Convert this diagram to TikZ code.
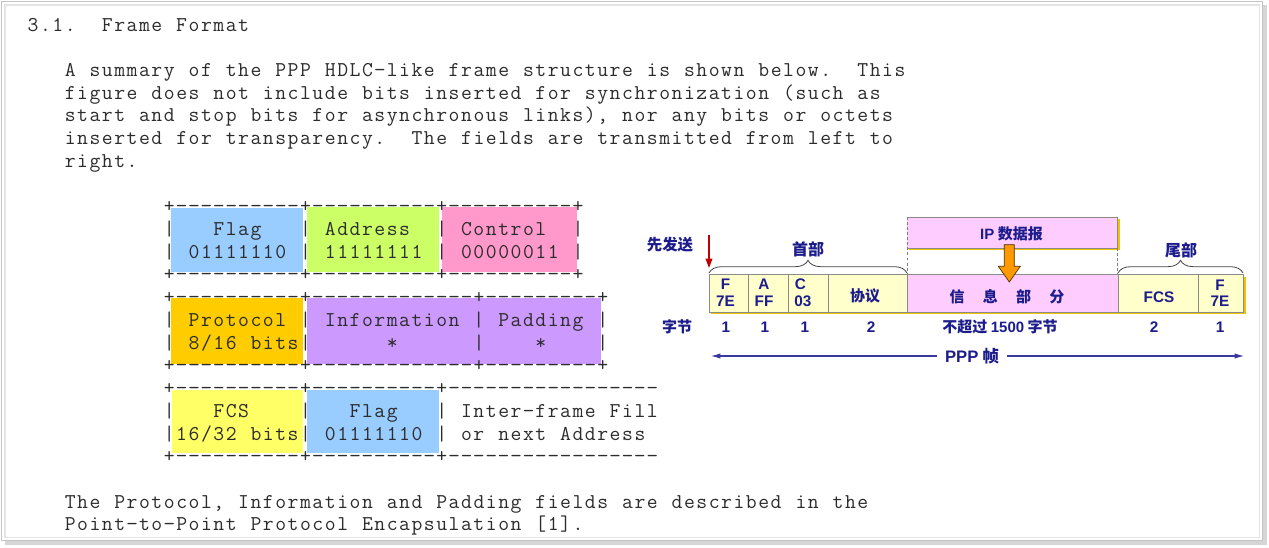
\documentclass[tikz,border=0pt]{standalone}
\usepackage{fontspec}
\usepackage{graphicx}
\usetikzlibrary{decorations.pathreplacing,arrows.meta}
\newfontfamily\cjk{Noto Sans CJK SC}
\newfontfamily\lsans{Liberation Sans}
\definecolor{monotext}{HTML}{2C2C2C}
\definecolor{navy}{HTML}{1C1C8C}
\definecolor{cBlue}{HTML}{99CCFF}
\definecolor{cGreen}{HTML}{CCFF66}
\definecolor{cPink}{HTML}{FF99CC}
\definecolor{cOrange}{HTML}{FFCC00}
\definecolor{cPurple}{HTML}{CC99FF}
\definecolor{cYellow}{HTML}{FFFF66}
\definecolor{lightyel}{HTML}{FFFFCC}
\definecolor{lightpink}{HTML}{FFCCFF}
\definecolor{gold}{HTML}{F0C400}
\definecolor{framegray}{HTML}{8A8A8A}
\definecolor{bracegray}{HTML}{444444}
\definecolor{arrowblue}{HTML}{3838A0}
\definecolor{fatorange}{HTML}{FF9900}
\definecolor{redarrow}{HTML}{C00000}
\definecolor{winouter}{HTML}{C4C4C4}
\definecolor{wininner}{HTML}{E4E4E4}
\definecolor{winshadow}{HTML}{D6D6D6}
\ExplSyntaxOn
\dim_new:N \g_mono_adv_dim
\dim_gset:Nn \g_mono_adv_dim {9.289pt}
\cs_new_protected:Npn \monoline #1
  {
    \str_map_inline:nn {#1}
      {
        \str_if_eq:nnTF {##1} {@}
          { \hbox_to_wd:nn {\g_mono_adv_dim} {} }
          {
            \str_if_eq:nnTF {##1} {-}
              { \hbox_to_wd:nn {\g_mono_adv_dim} { \hfil \scalebox{1.1}[1]{-} \hfil } }
              { \hbox_to_wd:nn {\g_mono_adv_dim} { \hfil ##1 \hfil } }
          }
      }
  }
\ExplSyntaxOff
\tikzset{
  mono/.style={inner sep=0pt, anchor=base west, text=monotext,
    font=\ttfamily\fontsize{15.8pt}{18pt}\selectfont},
  cn/.style={inner sep=0pt, text=navy, font=\cjk\bfseries\fontsize{11.25pt}{13pt}\selectfont},
  lt/.style={inner sep=0pt, text=navy, font=\lsans\bfseries\fontsize{11.5pt}{13pt}\selectfont},
  cellbox/.style={draw=framegray, line width=0.6pt},
  bracestyle/.style={decorate, decoration={brace, amplitude=9.5pt}, draw=bracegray, line width=0.6pt},
  dashln/.style={draw=gray, dashed, dash pattern=on 2.2pt off 1.6pt, line width=0.5pt},
  pppline/.style={draw=arrowblue, line width=0.8pt, -{Latex[length=7pt,width=4pt]}},
}
\begin{document}
\begin{tikzpicture}[x=0.75pt,y=-0.75pt]
\useasboundingbox (0,0) rectangle (1269,547);
% window frame
\fill[winshadow] (5,5) rectangle (1267,545);
\fill[white] (1,1) rectangle (1263,541);
\draw[winouter, line width=0.8pt] (1.5,1.5) rectangle (1262.5,540.5);
\draw[wininner, line width=0.8pt] (5,5) rectangle (1259.5,537.5);

% coloured cell backgrounds
\fill[cBlue]   (171,208) rectangle (303,272);
\fill[cGreen]  (307,207) rectangle (439,272);
\fill[cPink]   (442,207) rectangle (577,272);
\fill[cOrange] (171,298) rectangle (303,364);
\fill[cPurple] (307,298) rectangle (601,364);
\fill[cYellow] (172,390) rectangle (303,453);
\fill[cBlue]   (307,390) rectangle (439,453);

% monospaced text lines
\def\lx{26.6}
\node[mono] (t0)  at (\lx,31.0)  {\monoline{3.1.@@Frame@Format}};
\node[mono] (t2)  at (\lx,76.4)  {\monoline{@@@A@summary@of@the@PPP@HDLC-like@frame@structure@is@shown@below.@@This}};
\node[mono] (t3)  at (\lx,99.2)  {\monoline{@@@figure@does@not@include@bits@inserted@for@synchronization@(such@as}};
\node[mono] (t4)  at (\lx,121.9) {\monoline{@@@start@and@stop@bits@for@asynchronous@links),@nor@any@bits@or@octets}};
\node[mono] (t5)  at (\lx,144.6) {\monoline{@@@inserted@for@transparency.@@The@fields@are@transmitted@from@left@to}};
\node[mono] (t6)  at (\lx,167.3) {\monoline{@@@right.}};
\node[mono] (t8)  at (\lx,212.8) {\monoline{@@@@@@@@@@@+----------+----------+----------+}};
\node[mono] (t9)  at (\lx,235.5) {\monoline{@@@@@@@@@@@|@@@Flag@@@|@Address@@|@Control@@|}};
\node[mono] (t10) at (\lx,258.2) {\monoline{@@@@@@@@@@@|@01111110@|@11111111@|@00000011@|}};
\node[mono] (t11) at (\lx,280.9) {\monoline{@@@@@@@@@@@+----------+----------+----------+}};
\node[mono] (t12) at (\lx,303.6) {\monoline{@@@@@@@@@@@+----------+-------------+---------+}};
\node[mono] (t13) at (\lx,326.4) {\monoline{@@@@@@@@@@@|@Protocol@|@Information@|@Padding@|}};
\node[mono] (t14) at (\lx,349.1) {\monoline{@@@@@@@@@@@|@8/16@bits|@@@@@@*@@@@@@|@@@@*@@@@|}};
\node[mono] (t15) at (\lx,371.8) {\monoline{@@@@@@@@@@@+----------+-------------+---------+}};
\node[mono] (t16) at (\lx,394.5) {\monoline{@@@@@@@@@@@+----------+----------+-----------------}};
\node[mono] (t17) at (\lx,417.2) {\monoline{@@@@@@@@@@@|@@@FCS@@@@|@@@Flag@@@|@Inter-frame@Fill}};
\node[mono] (t18) at (\lx,440.0) {\monoline{@@@@@@@@@@@|16/32@bits|@01111110@|@or@next@Address}};
\node[mono] (t19) at (\lx,462.7) {\monoline{@@@@@@@@@@@+----------+----------+-----------------}};
\node[mono] (t21) at (\lx,508.1) {\monoline{@@@The@Protocol,@Information@and@Padding@fields@are@described@in@the}};
\node[mono] (t22) at (\lx,530.8) {\monoline{@@@Point-to-Point@Protocol@Encapsulation@[1].}};

% ---------------- right diagram ----------------
% IP datagram box
\fill[gold] (909,219) rectangle (1119.8,250);
\fill[lightpink] (907,217) rectangle (1117.5,248);
\draw[framegray, line width=0.5pt] (907,217) -- (1117.5,217) -- (1117.5,248) -- (907,248);
\node[cn] (ip) at (1011.5,234) {{\lsans\bfseries IP} 数据报};
\draw[dashln] (907,217) -- (907,274);
\draw[dashln] (1117.8,248) -- (1117.8,274);

% frame row shadow and cells
\fill[gold] (711,276.5) rectangle (1245.5,314);
\path[cellbox, fill=lightyel]  (709,274) rectangle (748,312);
\path[cellbox, fill=lightyel]  (748,274) rectangle (788,312);
\path[cellbox, fill=lightyel]  (788,274) rectangle (828,312);
\path[cellbox, fill=lightyel]  (828,274) rectangle (907,312);
\path[cellbox, fill=lightpink] (907,274) rectangle (1118,312);
\path[cellbox, fill=lightyel]  (1118,274) rectangle (1198,312);
\path[cellbox, fill=lightyel]  (1198,274) rectangle (1243,312);

% orange fat arrow
\draw[fill=fatorange, draw=black!70!fatorange, line width=0.5pt]
  (1004.3,244.7) -- (1014.3,244.7) -- (1014.3,266.3) -- (1020.3,266.3)
  -- (1009.3,282) -- (998.3,266.3) -- (1004.3,266.3) -- cycle;

% cell texts
\node[lt] (fa) at (725.5,284.5) {F};
\node[lt] (fb) at (725.5,301) {7E};
\node[lt] (aa) at (764,284.5) {A};
\node[lt] (ab) at (764,301) {FF};
\node[lt, anchor=west] (ca) at (794.5,284.5) {C};
\node[lt, anchor=west] (cb) at (794,301) {03};
\node[cn] (xy) at (865,296) {协议};
\node[cn] (xx) at (1007,297) {信\hspace{13.7pt}息\hspace{13.7pt}部\hspace{13.7pt}分};
\node[lt] (fcs) at (1159,297) {FCS};
\node[lt] (ea) at (1220,285) {F};
\node[lt] (eb) at (1220,301) {7E};

% braces and labels
\draw[bracestyle] (709,273) -- (907,273);
\draw[bracestyle] (1118,273) -- (1243,273);
\node[cn, font=\cjk\bfseries\fontsize{12pt}{14pt}\selectfont] (hd) at (808,249) {首部};
\node[cn, font=\cjk\bfseries\fontsize{12pt}{14pt}\selectfont] (tl) at (1181,250) {尾部};
\node[cn, font=\cjk\bfseries\fontsize{11.6pt}{14pt}\selectfont] (first) at (670,245) {先发送};
\coordinate (rs) at (709,235);
\coordinate (re) at (709,268);
\draw[redarrow, line width=1.1pt, -{Triangle[length=7pt,width=5pt]}] (rs) -- (re);

% byte counts
\node[cn] (zj) at (677,327) {字节};
\node[lt] (b1) at (726,327) {1};
\node[lt] (b2) at (765,327) {1};
\node[lt] (b3) at (805,327) {1};
\node[lt] (b4) at (871,327) {2};
\node[cn] (b5) at (1000,327) {不超过 {\lsans\bfseries 1500} 字节};
\node[lt] (b6) at (1154,327) {2};
\node[lt] (b7) at (1220,327) {1};

% PPP frame arrow
\node[cn, inner xsep=6pt, font=\cjk\bfseries\fontsize{12.5pt}{14pt}\selectfont] (ppp) at (972,356) {{\lsans\bfseries\fontsize{12.5pt}{14pt}\selectfont PPP} 帧};
\coordinate (pl) at (711,356);
\coordinate (pr) at (1244,356);
\draw[pppline] (ppp.west) -- (pl);
\draw[pppline] (ppp.east) -- (pr);
\end{tikzpicture}
\end{document}
